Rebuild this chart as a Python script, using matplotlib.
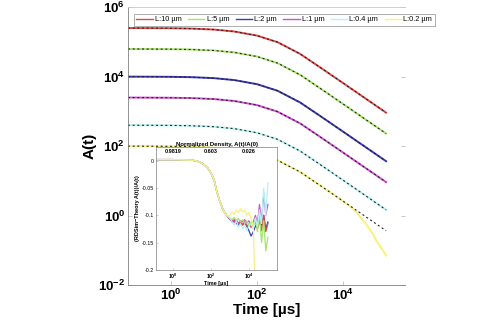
import numpy as np
import matplotlib
matplotlib.use('Agg')
import matplotlib.pyplot as plt
import matplotlib.ticker as tkr
from matplotlib.lines import Line2D

plt.rcParams['font.family'] = ['Liberation Sans', 'DejaVu Sans']
plt.rcParams['mathtext.fontset'] = 'custom'
plt.rcParams['mathtext.rm'] = 'Liberation Sans'
plt.rcParams['mathtext.bf'] = 'Liberation Sans:bold'
plt.rcParams['mathtext.default'] = 'bf'

labels = ['L:10 µm', 'L:5 µm', 'L:2 µm', 'L:1 µm', 'L:0.4 µm', 'L:0.2 µm']
colors = ['#e04848', '#a5e46a', '#3a3ab8', '#d050d0', '#b4f2f2', '#f6f27c']

# A(t) for each box size, sampled on a common time grid [us]
t = [0.1, 0.3, 1, 3, 10, 30, 100, 300, 1000, 3000, 1e4, 3e4, 1e5]
A_10 = [249000, 247500, 245500, 240000, 225000, 197500, 150750, 97500, 45000, 18000, 6500, 2550, 915]
A_5 = [62250, 61880, 61380, 60000, 56250, 49380, 37690, 24380, 11250, 4500, 1625, 637, 229]
A_2 = [9960, 9900, 9820, 9600, 9000, 7900, 6030, 3900, 1800, 720, 260, 102, 36.6]
A_1 = [2490, 2475, 2455, 2400, 2250, 1975, 1508, 975, 450, 180, 65, 25.5, 9.15]
A_04 = [398, 396, 393, 384, 360, 316, 241, 156, 72, 28.8, 10.4, 4.08, 1.46]
A_02 = [99.6, 99, 98.2, 96, 90, 79, 60.3, 39, 18, 7.2, 2.6, 1.02, 0.366]

# the smallest box falls away from theory at late times
t_02_sim = [0.1, 0.3, 1, 3, 10, 30, 100, 300, 1000, 3000, 1e4, 1.6e4, 2.4e4, 3.6e4, 5e4, 6.2e4, 8e4, 1e5]
A_02_sim = [99.6, 99, 98.2, 96, 90, 79, 60.3, 39, 18, 7.2, 2.6, 1.68, 0.98, 0.52, 0.29, 0.17, 0.11, 0.07]

# relative deviation (sim - theory) / A(t)
t_rel = [0.13, 1, 10, 20, 40, 70, 100, 150, 200, 300, 450, 700,
         1000, 1300, 1700, 2200, 2800, 3600, 4600, 6000, 7700, 10000,
         13000, 17000, 22000, 28000, 36000, 46000, 60000, 77000, 100000]
rel_early = [0.002, 0.002, 0.001, -0.001, -0.006, -0.014, -0.022, -0.036, -0.055, -0.075, -0.091, -0.101]
rel_10 = rel_early + [-0.107, -0.110, -0.108, -0.112, -0.115, -0.112, -0.118, -0.114, -0.120, -0.116,
                      -0.122, -0.118, -0.112, -0.125, -0.110, -0.128, -0.100, -0.130, -0.115]
rel_5 = rel_early + [-0.105, -0.108, -0.104, -0.110, -0.106, -0.112, -0.108, -0.115, -0.110, -0.118,
                     -0.112, -0.120, -0.105, -0.130, -0.095, -0.150, -0.110, -0.165, -0.140]
rel_2 = rel_early + [-0.107, -0.112, -0.110, -0.115, -0.118, -0.114, -0.117, -0.112, -0.120, -0.128,
                     -0.138, -0.130, -0.120, -0.115, -0.108, -0.118, -0.100, -0.125, -0.112]
rel_1 = rel_early + [-0.106, -0.110, -0.113, -0.109, -0.114, -0.110, -0.112, -0.108, -0.114, -0.110,
                     -0.118, -0.112, -0.100, -0.115, -0.080, -0.110, -0.060, -0.100, -0.080]
rel_04 = rel_early + [-0.105, -0.112, -0.118, -0.110, -0.122, -0.115, -0.125, -0.118, -0.128, -0.120,
                      -0.115, -0.125, -0.105, -0.120, -0.090, -0.115, -0.050, -0.100, -0.040]
rel_02 = rel_early + [-0.100, -0.094, -0.098, -0.090, -0.096, -0.088, -0.094, -0.090, -0.100, -0.095,
                      -0.105, -0.120, -0.260, -0.350, -0.500, -0.700, -0.900, -0.950, -0.980]

density_ticks = [1, 100, 1e4]
density_labels = ['0.9819', '0.603', '0.026']

fig = plt.figure(figsize=(5, 3.21), dpi=100)
ax = fig.add_axes([0.256, 0.112, 0.554, 0.866])

curves = [A_10, A_5, A_2, A_1, A_04, A_02]
for i, (A, c) in enumerate(zip(curves, colors)):
    if i == 5:
        ax.plot(t_02_sim, A_02_sim, color=c, lw=1.4)
    else:
        ax.plot(t, A, color=c, lw=1.4)
for A in curves:
    ax.plot(t, A, color='#202020', lw=0.8, ls=(0, (1.8, 2.4)))

ax.set_xscale('log')
ax.set_yscale('log')
ax.set_xlim(0.1, 2.75e5)
ax.set_ylim(1e-2, 1e6)
ax.set_xticks([1, 1e2, 1e4])
ax.set_yticks([1e-2, 1, 1e2, 1e4, 1e6])
ax.xaxis.set_minor_locator(tkr.NullLocator())
ax.yaxis.set_minor_locator(tkr.NullLocator())
fmt = tkr.FuncFormatter(lambda v, pos: r'$10^{%d}$' % int(round(np.log10(v))))
ax.xaxis.set_major_formatter(fmt)
ax.yaxis.set_major_formatter(fmt)
ax.tick_params(direction='in', length=3, width=0.5, color='#b0b0b0', labelsize=9.5, pad=2,
               right=True)
for s in ['left', 'bottom']:
    ax.spines[s].set_color('#808080')
    ax.spines[s].set_linewidth(0.6)
ax.spines['top'].set_color('#c8c8c8')
ax.spines['top'].set_linewidth(0.6)
ax.spines['right'].set_visible(False)

ax.set_xlabel('Time [µs]', fontsize=11, fontweight='bold', labelpad=0)
ax.set_ylabel('A(t)', fontsize=11, fontweight='bold', labelpad=1)

handles = [Line2D([], [], color=c, lw=1) for c in colors]
leg = ax.legend(handles, labels, loc='upper left', bbox_to_anchor=(0.008, 0.99), ncol=6,
                fontsize=5.3, handlelength=2.2, handletextpad=0.3, columnspacing=0.9,
                borderpad=0.35, frameon=True, fancybox=False, edgecolor='#707070')
leg.get_frame().set_linewidth(0.5)

# inset: relative deviation from theory
ax_in = fig.add_axes([0.312, 0.159, 0.242, 0.383])
rels = [rel_10, rel_5, rel_2, rel_1, rel_04, rel_02]
order = [2, 0, 3, 1, 4, 5]
for i in order:
    ax_in.plot(t_rel, rels[i], color=colors[i], lw=0.9)
ax_in.set_xscale('log')
ax_in.set_xlim(0.13, 3e5)
ax_in.set_ylim(-0.2, 0.025)
ax_in.set_xticks([1, 1e2, 1e4])
ax_in.xaxis.set_minor_locator(tkr.NullLocator())
ax_in.set_yticks([0, -0.05, -0.1, -0.15, -0.2])
ax_in.set_yticklabels(['0', '-0.05', '-0.1', '-0.15', '-0.2'])
ax_in.xaxis.set_major_formatter(fmt)
ax_in.tick_params(direction='in', length=1.5, width=0.4, color='#b0b0b0', labelsize=3.8, pad=1.5)
for s in ax_in.spines.values():
    s.set_color('#808080')
    s.set_linewidth(0.5)
for xt, lab in zip(density_ticks, density_labels):
    ax_in.text(xt, 0.985, lab, transform=ax_in.get_xaxis_transform(), ha='center', va='top',
               fontsize=4, fontweight='bold')
ax_in.set_title('Normalized Density, A(t)/A(0)', fontsize=4.3, fontweight='bold', pad=1)
ax_in.set_xlabel('Time [µs]', fontsize=4, fontweight='bold', labelpad=0)
ax_in.set_ylabel('(RDSim−Theory A(t))/A(t)', fontsize=4, fontweight='bold', labelpad=1.5)

fig.savefig('out.png', dpi=100)
